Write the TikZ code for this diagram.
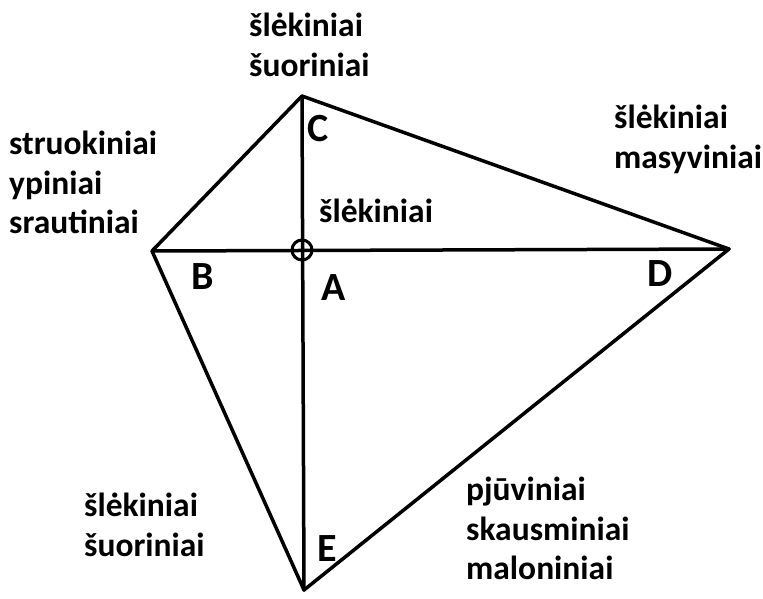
\documentclass[tikz,border=0pt]{standalone}
\usepackage{fontspec}
\setmainfont{Carlito}
\usepackage{tikz}
\tikzset{
    zodis/.style = {anchor = north west, inner sep = 0pt, align = left, font = \bfseries\fontsize{33.5}{39.5}\selectfont},
    raide/.style = {anchor = base west, inner sep = 0pt, font = \bfseries\fontsize{40}{44}\selectfont},
    linija/.style = {line width = 3.5pt, line join = round, line cap = round}
}
\begin{document}
\begin{tikzpicture}[x = 1pt, y = -1pt]
    % parametri
    \pgfmathsetmacro{\rag}{10}
    \useasboundingbox (0,0) rectangle (763,598);
    % Vertici
    \coordinate (C) at (302,96);
    \coordinate (B) at (152,251);
    \coordinate (D) at (729,249);
    \coordinate (E) at (304,590);
    \coordinate (A) at (302,250);
    % Lati
    \draw[linija] (B) -- (C) -- (D) -- (E) -- (B);
    \draw[linija] (C) -- (E);
    \draw[linija] (B) -- (D);
    % cerchio in A
    \draw[line width = 3pt] (A) circle (\rag pt);
    % lettere
    \node[raide] (lC) at (307,141) {C};
    \node[raide] (lB) at (191,289) {B};
    \node[raide] (lA) at (321,300) {A};
    \node[raide] (lD) at (647,286) {D};
    \node[raide] (lE) at (317,561) {E};
    % etichette
    \node[zodis] (virsus) at (249,13) {šlėkiniai\\šuoriniai};
    \node[zodis] (kaire) at (9,131) {struokiniai\\ypiniai\\srautiniai};
    \node[zodis] (desine) at (614,105) {šlėkiniai\\masyviniai};
    \node[zodis] (centras) at (319,199) {šlėkiniai};
    \node[zodis] (apacia) at (84,493) {šlėkiniai\\šuoriniai};
    \node[zodis] (pjuviai) at (466,477) {pjūviniai\\skausminiai\\maloniniai};
\end{tikzpicture}
\end{document}
